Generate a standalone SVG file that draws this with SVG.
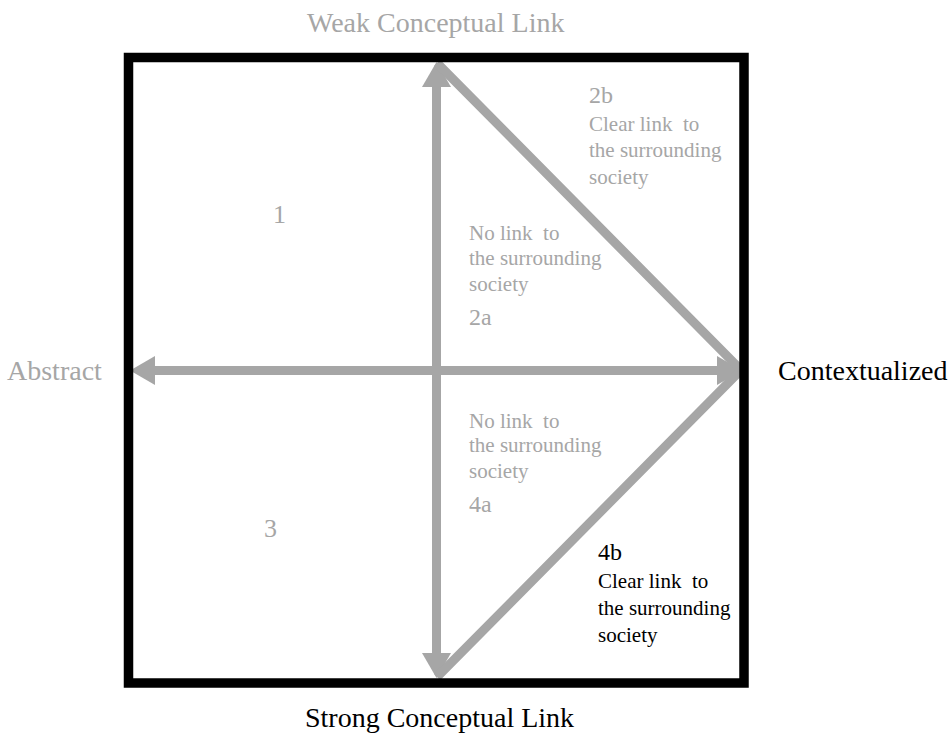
<svg xmlns="http://www.w3.org/2000/svg" width="952" height="734" viewBox="0 0 952 734">
  <style>
    .axis { font-size: 28px; }
    .grey { fill: #a6a6a6; }
    .dark { fill: #000000; }
    .num { font-size: 24px; }
    .big { font-size: 26px; }
    .note { font-size: 21px; white-space: pre; }
    .shaft { stroke: #a6a6a6; stroke-width: 9; fill: none; }
  </style>
  <defs>
    <marker id="head" markerUnits="userSpaceOnUse" markerWidth="25" markerHeight="29" viewBox="0 0 25 29" refX="1" refY="14.5" orient="auto-start-reverse">
      <path d="M0,0 L25,14.5 L0,29 Z" fill="#a6a6a6"/>
    </marker>
  </defs>

  <rect width="952" height="734" fill="#ffffff"/>

  <!-- connectors -->
  <g id="connectors">
    <line class="shaft" x1="436.5" y1="86" x2="436.5" y2="654" marker-start="url(#head)" marker-end="url(#head)"/>
    <line class="shaft" x1="154" y1="370.5" x2="718" y2="370.5" marker-start="url(#head)" marker-end="url(#head)"/>
    <polyline class="shaft" points="437,63 741,370 437,677" stroke-linejoin="miter"/>
  </g>

  <!-- outer frame -->
  <g id="frame">
    <rect x="128.5" y="57.5" width="615.5" height="625.5" fill="none" stroke="#000000" stroke-width="9.5"/>
  </g>

  <g font-family="'Liberation Serif', 'Times New Roman', serif">
    <!-- axis labels -->
    <g id="axis-top"><text class="axis grey" x="307" y="32">Weak Conceptual Link</text></g>
    <g id="axis-bottom"><text class="axis dark" x="305" y="727">Strong Conceptual Link</text></g>
    <g id="axis-left"><text class="axis grey" x="7" y="380">Abstract</text></g>
    <g id="axis-right"><text class="axis dark" x="778" y="380">Contextualized</text></g>

    <!-- quadrants -->
    <g id="q1"><text class="big grey" x="273" y="223">1</text></g>
    <g id="q3"><text class="big grey" x="264" y="537">3</text></g>

    <g id="q2b">
      <text class="num grey" x="589" y="103">2b</text>
      <text class="note grey" x="589" y="131">Clear link  to</text>
      <text class="note grey" x="589" y="157">the surrounding</text>
      <text class="note grey" x="589" y="184">society</text>
    </g>

    <g id="q2a">
      <text class="note grey" x="469" y="240">No link  to</text>
      <text class="note grey" x="469" y="265">the surrounding</text>
      <text class="note grey" x="469" y="291">society</text>
      <text class="num grey" x="469" y="325">2a</text>
    </g>

    <g id="q4a">
      <text class="note grey" x="469" y="428">No link  to</text>
      <text class="note grey" x="469" y="452">the surrounding</text>
      <text class="note grey" x="469" y="478">society</text>
      <text class="num grey" x="469" y="512">4a</text>
    </g>

    <g id="q4b">
      <text class="num dark" x="598" y="560">4b</text>
      <text class="note dark" x="598" y="588">Clear link  to</text>
      <text class="note dark" x="598" y="615">the surrounding</text>
      <text class="note dark" x="598" y="642">society</text>
    </g>
  </g>
</svg>
